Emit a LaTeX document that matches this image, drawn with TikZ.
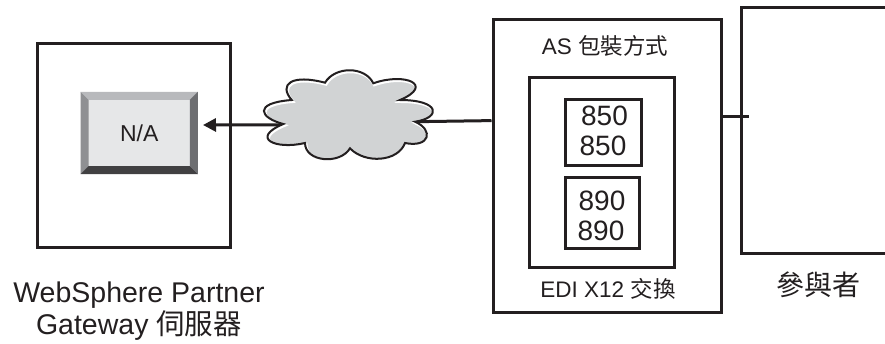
\documentclass[tikz,border=0pt]{standalone}
\usepackage{fontspec}
\usetikzlibrary{calc,arrows.meta}
\setmainfont{Liberation Sans}
\newfontfamily\cjk{Noto Sans CJK TC}
\definecolor{ink}{HTML}{231F20}
\definecolor{cloudgray}{HTML}{D1D3D4}
\definecolor{bevT}{HTML}{B8B9BC}
\definecolor{bevL}{HTML}{8F9093}
\definecolor{bevR}{HTML}{6D6E71}
\definecolor{bevB}{HTML}{414042}
\definecolor{face}{HTML}{E6E7E8}
\newcommand{\cloudpath}{(283.3,124) .. controls (260,118) and (252,103) .. (291.7,100)
 .. controls (278,84) and (292,74) .. (325,82.7)
 .. controls (335,66) and (365,66) .. (373.3,83.3)
 .. controls (405,72) and (435,85) .. (400,100)
 .. controls (441,100) and (441,118) .. (415,121.7)
 .. controls (434,130) and (430,148) .. (405,143)
 .. controls (398,162) and (365,164) .. (350,148.3)
 .. controls (340,165) and (305,162) .. (305,143)
 .. controls (275,150) and (250,138) .. (283.3,124) -- cycle}
\tikzset{
  outline/.style={draw=ink,line width=3pt,fill=white,inner sep=0pt},
  txt/.style={text=ink,inner sep=0pt,align=center},
  conn/.style={draw=ink,line width=3pt}
}
\begin{document}
\begin{tikzpicture}[x=1pt,y=-1pt]
\clip (0,0) rectangle (885,343);
\fill[white] (0,0) rectangle (885,343);
% boxes
\node[outline,minimum width=193pt,minimum height=204pt] (server) at (134.2,145) {};
\node[outline,minimum width=228pt,minimum height=293pt] (as) at (607,165.5) {};
\node[outline,minimum width=145pt,minimum height=190pt] (edi) at (601.5,172) {};
\node[outline,minimum width=76pt,minimum height=66pt] (b850) at (603,132) {};
\node[outline,minimum width=74pt,minimum height=71pt] (b890) at (602,212.5) {};
\node[outline,minimum width=190pt,minimum height=246pt] (partner) at (836,130) {};
% button
\node[inner sep=0pt,minimum width=117pt,minimum height=82pt,fill=face,font=\fontsize{23}{26}\selectfont,text=ink] (btn) at (139.2,133) {N/A};
\fill[bevT] (btn.north west) -- (btn.north east) -- ($(btn.north east)+(-8,8)$) -- ($(btn.north west)+(8,8)$) -- cycle;
\fill[bevL] (btn.north west) -- (btn.south west) -- ($(btn.south west)+(8,-8)$) -- ($(btn.north west)+(8,8)$) -- cycle;
\fill[bevR] (btn.north east) -- (btn.south east) -- ($(btn.south east)+(-8,-8)$) -- ($(btn.north east)+(-8,8)$) -- cycle;
\fill[bevB] (btn.south west) -- (btn.south east) -- ($(btn.south east)+(-8,-8)$) -- ($(btn.south west)+(8,-8)$) -- cycle;
% connectors
\coordinate (cloudL) at (283,124.8);
\coordinate (cloudR) at (415,121.7);
\coordinate (tee) at (749,116);
\coordinate (arrowtip) at (203,125);
\draw[conn,-{Triangle[length=13pt,width=13pt]}] (cloudL) -- (arrowtip);
\draw[conn] (cloudR) -- (as.west |- 0,120.6);
\draw[conn] (as.east |- tee) -- (tee);
% cloud
\fill[cloudgray] \cloudpath;
\begin{scope}
  \clip \cloudpath;
  \draw[white,line width=3pt,shift={(1,1.5)}] \cloudpath;
\end{scope}
\draw[ink,line width=2pt,line join=miter] \cloudpath;
% text
\node[txt,font=\fontsize{22.5}{26}\selectfont] (astext) at (605,46) {AS {\cjk 包裝方式}};
\node[txt,font=\fontsize{22.5}{26}\selectfont] (editext) at (608,289) {EDI X12 {\cjk 交換}};
\node[txt,font=\fontsize{28}{30}\selectfont] (t1) at (604.5,115.5) {850};
\node[txt,font=\fontsize{28}{30}\selectfont] (t2) at (603,146) {850};
\node[txt,font=\fontsize{28}{30}\selectfont] (t3) at (602,200.5) {890};
\node[txt,font=\fontsize{28}{30}\selectfont] (t4) at (601,231) {890};
\node[txt,font=\fontsize{28}{32}\selectfont] (ptext) at (818,285) {\cjk 參與者};
\node[txt,font=\fontsize{28.5}{32}\selectfont] (stext) at (139,311) {WebSphere Partner\\Gateway {\cjk 伺服器}};
\end{tikzpicture}
\end{document}
